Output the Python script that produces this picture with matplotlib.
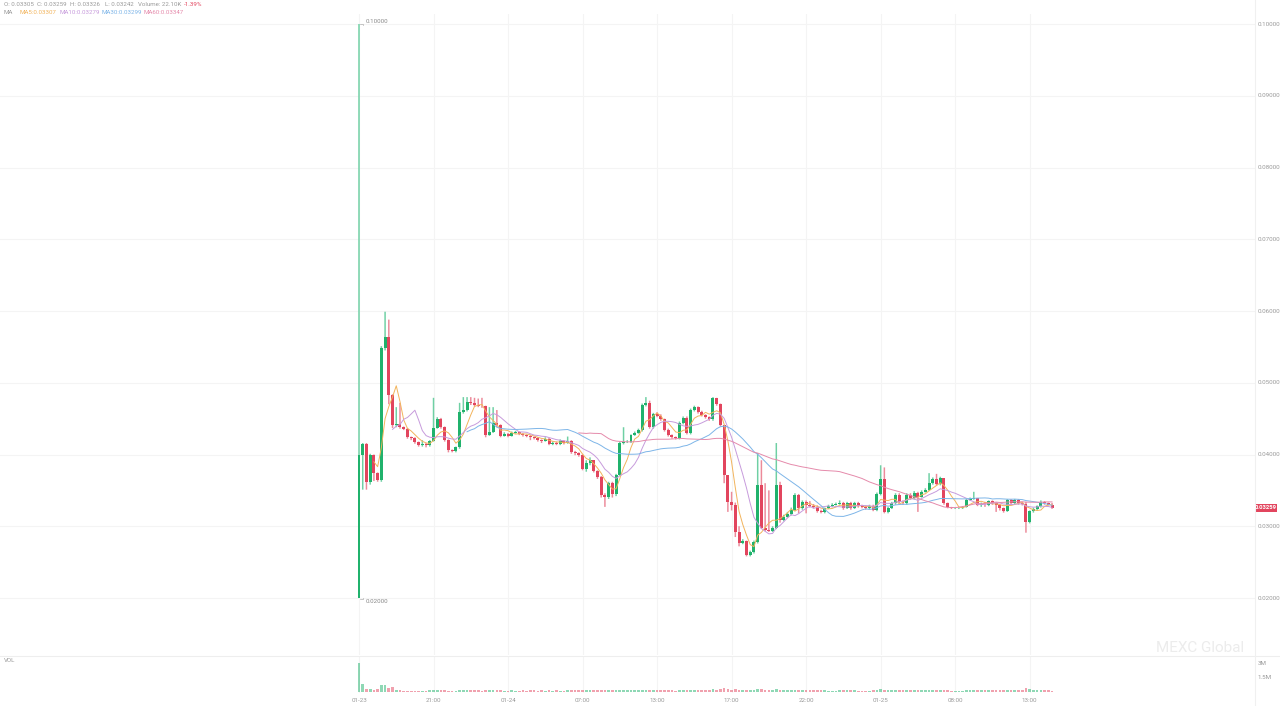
import numpy as np
import pandas as pd
import matplotlib
matplotlib.use("Agg")
import matplotlib.pyplot as plt
from matplotlib.patches import Rectangle

plt.rcParams['font.family'] = ['Roboto', 'DejaVu Sans']

# Свечи (цена закрытия / максимум / минимум), открытие = закрытие предыдущей свечи
closes = [
    0.0399, 0.0415, 0.0362, 0.0399, 0.0374, 0.0365, 0.0548, 0.0564, 0.0483, 0.0441,
    0.0443, 0.0438, 0.0436, 0.0424, 0.0423, 0.0417, 0.0413, 0.0415, 0.0413, 0.0419,
    0.0437, 0.0450, 0.0438, 0.0420, 0.0406, 0.0405, 0.0410, 0.0459, 0.0462, 0.0473,
    0.0472, 0.0469, 0.0468, 0.0467, 0.0427, 0.0431, 0.0444, 0.0441, 0.0426, 0.0429,
    0.0426, 0.0430, 0.0431, 0.0429, 0.0427, 0.0426, 0.0424, 0.0423, 0.0420, 0.0419,
    0.0422, 0.0415, 0.0416, 0.0415, 0.0419, 0.0416, 0.0419, 0.0403, 0.0402, 0.0399,
    0.0380, 0.0388, 0.0392, 0.0377, 0.0369, 0.0344, 0.0341, 0.0360, 0.0345, 0.0371,
    0.0416, 0.0417, 0.0418, 0.0427, 0.0430, 0.0434, 0.0469, 0.0472, 0.0438, 0.0456,
    0.0454, 0.0449, 0.0434, 0.0427, 0.0424, 0.0423, 0.0444, 0.0451, 0.0430, 0.0462,
    0.0466, 0.0459, 0.0455, 0.0452, 0.0449, 0.0479, 0.0470, 0.0441, 0.0371, 0.0334,
    0.0330, 0.0292, 0.0277, 0.0279, 0.0260, 0.0264, 0.0278, 0.0357, 0.0298, 0.0295,
    0.0294, 0.0298, 0.0357, 0.0309, 0.0313, 0.0317, 0.0323, 0.0344, 0.0325, 0.0334,
    0.0330, 0.0328, 0.0327, 0.0321, 0.0320, 0.0325, 0.0328, 0.0330, 0.0331, 0.0332,
    0.0325, 0.0332, 0.0325, 0.0332, 0.0328, 0.0327, 0.0325, 0.0328, 0.0323, 0.0345,
    0.0366, 0.0320, 0.0325, 0.0332, 0.0344, 0.0334, 0.0332, 0.0344, 0.0339, 0.0347,
    0.0341, 0.0348, 0.0351, 0.0360, 0.0366, 0.0359, 0.0367, 0.0332, 0.0327, 0.0325,
    0.0325, 0.0325, 0.0327, 0.0337, 0.0338, 0.0339, 0.0330, 0.0330, 0.0329, 0.0335,
    0.0332, 0.0330, 0.0325, 0.0321, 0.0337, 0.0332, 0.0337, 0.0332, 0.0331, 0.0306,
    0.0321, 0.0324, 0.0328, 0.0334, 0.0332, 0.0330, 0.03259]

highs = [
    0.1000, 0.0416, 0.0416, 0.0401, 0.0400, 0.0375, 0.0551, 0.0599, 0.0588, 0.0484,
    0.0466, 0.0472, 0.0439, 0.0437, 0.0425, 0.0424, 0.0418, 0.0420, 0.0416, 0.0420,
    0.0479, 0.0452, 0.0451, 0.0439, 0.0421, 0.0407, 0.0411, 0.0472, 0.0480, 0.0480,
    0.0480, 0.0479, 0.0478, 0.0479, 0.0468, 0.0466, 0.0466, 0.0462, 0.0442, 0.0431,
    0.0430, 0.0432, 0.0433, 0.0432, 0.0430, 0.0428, 0.0427, 0.0425, 0.0424, 0.0421,
    0.0424, 0.0423, 0.0418, 0.0418, 0.0421, 0.0420, 0.0425, 0.0420, 0.0405, 0.0403,
    0.0400, 0.0392, 0.0396, 0.0392, 0.0378, 0.0370, 0.0346, 0.0362, 0.0362, 0.0373,
    0.0418, 0.0438, 0.0420, 0.0428, 0.0432, 0.0436, 0.0471, 0.0480, 0.0475, 0.0458,
    0.0459, 0.0456, 0.0450, 0.0436, 0.0428, 0.0425, 0.0446, 0.0453, 0.0453, 0.0464,
    0.0468, 0.0467, 0.0461, 0.0456, 0.0453, 0.0480, 0.0479, 0.0471, 0.0441, 0.0371,
    0.0348, 0.0333, 0.0300, 0.0282, 0.0280, 0.0266, 0.0280, 0.0402, 0.0392, 0.0360,
    0.0350, 0.0300, 0.0416, 0.0362, 0.0316, 0.0320, 0.0326, 0.0346, 0.0345, 0.0336,
    0.0336, 0.0335, 0.0331, 0.0329, 0.0323, 0.0326, 0.0330, 0.0332, 0.0333, 0.0336,
    0.0334, 0.0334, 0.0334, 0.0334, 0.0334, 0.0330, 0.0329, 0.0330, 0.0330, 0.0347,
    0.0385, 0.0382, 0.0327, 0.0334, 0.0346, 0.0346, 0.0336, 0.0346, 0.0346, 0.0349,
    0.0348, 0.0350, 0.0353, 0.0374, 0.0368, 0.0373, 0.0369, 0.0367, 0.0333, 0.0327,
    0.0326, 0.0326, 0.0328, 0.0338, 0.0340, 0.0348, 0.0339, 0.0333, 0.0334, 0.0336,
    0.0336, 0.0333, 0.0331, 0.0326, 0.0338, 0.0338, 0.0338, 0.0338, 0.0334, 0.0334,
    0.0322, 0.0326, 0.0329, 0.0336, 0.0335, 0.0333, 0.03326]

lows = [
    0.0200, 0.0351, 0.0351, 0.0358, 0.0363, 0.0362, 0.0362, 0.0545, 0.0470, 0.0437,
    0.0438, 0.0436, 0.0434, 0.0422, 0.0420, 0.0415, 0.0411, 0.0411, 0.0410, 0.0411,
    0.0418, 0.0436, 0.0436, 0.0418, 0.0403, 0.0403, 0.0403, 0.0408, 0.0457, 0.0460,
    0.0469, 0.0467, 0.0466, 0.0465, 0.0424, 0.0426, 0.0430, 0.0438, 0.0424, 0.0425,
    0.0424, 0.0425, 0.0429, 0.0427, 0.0425, 0.0424, 0.0420, 0.0421, 0.0418, 0.0416,
    0.0418, 0.0413, 0.0413, 0.0413, 0.0413, 0.0414, 0.0415, 0.0401, 0.0399, 0.0397,
    0.0378, 0.0376, 0.0385, 0.0375, 0.0366, 0.0340, 0.0327, 0.0338, 0.0340, 0.0342,
    0.0370, 0.0414, 0.0416, 0.0416, 0.0426, 0.0429, 0.0432, 0.0467, 0.0436, 0.0436,
    0.0452, 0.0447, 0.0432, 0.0425, 0.0422, 0.0421, 0.0421, 0.0442, 0.0428, 0.0428,
    0.0460, 0.0457, 0.0453, 0.0450, 0.0447, 0.0447, 0.0468, 0.0439, 0.0360, 0.0320,
    0.0322, 0.0285, 0.0272, 0.0275, 0.0258, 0.0258, 0.0262, 0.0276, 0.0296, 0.0293,
    0.0292, 0.0292, 0.0296, 0.0305, 0.0307, 0.0312, 0.0315, 0.0321, 0.0318, 0.0323,
    0.0318, 0.0326, 0.0325, 0.0319, 0.0318, 0.0318, 0.0324, 0.0327, 0.0329, 0.0330,
    0.0323, 0.0324, 0.0323, 0.0324, 0.0326, 0.0325, 0.0323, 0.0324, 0.0321, 0.0321,
    0.0343, 0.0318, 0.0318, 0.0324, 0.0330, 0.0332, 0.0330, 0.0330, 0.0337, 0.0337,
    0.0320, 0.0340, 0.0347, 0.0349, 0.0358, 0.0357, 0.0357, 0.0330, 0.0325, 0.0324,
    0.0324, 0.0324, 0.0324, 0.0326, 0.0336, 0.0337, 0.0328, 0.0327, 0.0327, 0.0328,
    0.0330, 0.0320, 0.0322, 0.0319, 0.0320, 0.0330, 0.0331, 0.0330, 0.0329, 0.0291,
    0.0304, 0.0319, 0.0322, 0.0326, 0.0330, 0.0329, 0.03242]

first_open = 0.0200

# Объём, млн
volumes = [
    3.05, 0.80, 0.26, 0.26, 0.20, 0.26, 0.72, 0.72, 0.36, 0.43,
    0.14, 0.12, 0.10, 0.10, 0.08, 0.10, 0.08, 0.08, 0.10, 0.12,
    0.16, 0.14, 0.12, 0.12, 0.10, 0.08, 0.10, 0.20, 0.14, 0.14,
    0.12, 0.12, 0.12, 0.10, 0.16, 0.12, 0.14, 0.12, 0.14, 0.10,
    0.10, 0.12, 0.10, 0.10, 0.12, 0.10, 0.12, 0.12, 0.10, 0.12,
    0.10, 0.12, 0.10, 0.12, 0.10, 0.10, 0.12, 0.14, 0.12, 0.12,
    0.16, 0.14, 0.14, 0.14, 0.14, 0.20, 0.16, 0.18, 0.14, 0.16,
    0.20, 0.14, 0.12, 0.12, 0.12, 0.14, 0.18, 0.16, 0.16, 0.14,
    0.12, 0.12, 0.14, 0.12, 0.12, 0.10, 0.14, 0.12, 0.14, 0.16,
    0.14, 0.12, 0.12, 0.12, 0.12, 0.22, 0.16, 0.26, 0.42, 0.28,
    0.18, 0.22, 0.20, 0.16, 0.20, 0.14, 0.18, 0.28, 0.22, 0.16,
    0.14, 0.14, 0.30, 0.20, 0.14, 0.14, 0.14, 0.18, 0.16, 0.14,
    0.12, 0.12, 0.12, 0.14, 0.12, 0.12, 0.10, 0.10, 0.10, 0.12,
    0.12, 0.12, 0.12, 0.12, 0.10, 0.10, 0.10, 0.10, 0.12, 0.18,
    0.22, 0.20, 0.14, 0.12, 0.14, 0.12, 0.12, 0.14, 0.12, 0.12,
    0.12, 0.12, 0.12, 0.18, 0.16, 0.16, 0.14, 0.18, 0.12, 0.08,
    0.08, 0.08, 0.10, 0.12, 0.12, 0.14, 0.12, 0.12, 0.12, 0.12,
    0.12, 0.12, 0.14, 0.12, 0.16, 0.12, 0.12, 0.12, 0.12, 0.34,
    0.22, 0.14, 0.14, 0.14, 0.12, 0.12, 0.08]

tick_idx = [0, 20, 40, 60, 80, 100, 120, 140, 160, 180]
tick_labels = ["01-23", "21:00", "01-24", "07:00", "13:00", "17:00", "22:00", "01-25", "08:00", "13:00"]
price_levels = [0.02, 0.03, 0.04, 0.05, 0.06, 0.07, 0.08, 0.09, 0.10]
vol_ticks = [1.5, 3.0]
vol_tick_labels = ["1.5M", "3M"]

ma_windows = [5, 10, 30, 60]
ma_colors = ["#f2b45c", "#c79bdc", "#7db5e8", "#e58aab"]
ma_values = ["0.03307", "0.03279", "0.03299", "0.03347"]

GREEN = "#20b26c"
RED = "#e2455e"
GREEN_WICK = "#6fd0a4"
RED_WICK = "#ec8a9a"
GRID = "#f4f4f4"
TXT = "#9a9a9a"

df = pd.DataFrame({"close": closes, "high": highs, "low": lows, "vol": volumes})
df["open"] = df["close"].shift(1)
df.loc[0, "open"] = first_open
df["up"] = df["close"] >= df["open"]
x = np.arange(len(df))

W, H = 1280, 706
fig = plt.figure(figsize=(W / 100, H / 100), dpi=100)


def fx(px):
    return px / W


def fy(py):
    return 1 - py / H


# пиксели -> координаты данных
x0_px, step_px = 359, 3.726
ppu = 7175.0  # пикселей на единицу цены
ax = fig.add_axes([0, fy(655), fx(1255), fy(14) - fy(655)])
axv = fig.add_axes([0, fy(693), fx(1255), fy(657) - fy(693)], sharex=ax)
ax.set_xlim(-x0_px / step_px, (1255 - x0_px) / step_px)
ax.set_ylim(0.10 - (655 - 24) / ppu, 0.10 + (24 - 14) / ppu)
axv.set_ylim(-(693 - 691.5) / 28 * 3, (691.5 - 657) / 28 * 3)

for a in (ax, axv):
    for s in a.spines.values():
        s.set_visible(False)
    a.tick_params(left=False, bottom=False, labelleft=False, labelbottom=False)
    for t in tick_idx:
        a.axvline(t, color=GRID, lw=0.8, zorder=0)

for p in price_levels:
    ax.axhline(p, color=GRID, lw=0.8, zorder=0)

# свечи
colors = [GREEN if u else RED for u in df["up"]]
wick_colors = [GREEN_WICK if u else RED_WICK for u in df["up"]]
wicks = ax.bar(x, df["high"] - df["low"], bottom=df["low"], width=0.4, color=wick_colors, lw=0, zorder=2)
for r in wicks:
    r.set_snap(False)
body_lo = np.minimum(df["open"], df["close"])
body_h = np.maximum(np.abs(df["close"] - df["open"]), 0.00004)
ax.bar(x, body_h, bottom=body_lo, width=0.8, color=colors, lw=0, zorder=3)

# скользящие средние
for w, c in zip(ma_windows, ma_colors):
    ax.plot(x, df["close"].rolling(w).mean(), color=c, lw=0.7, zorder=4)

# максимум / минимум
ax.plot([0.3, 1.2, 1.2], [0.10, 0.10, 0.0999], color="#b0b0b0", lw=0.5)
ax.text(1.8, 0.1003, "0.10000", fontsize=4.4, color="#888888", va="center", ha="left")
ax.plot([0.3, 1.2, 1.2], [0.0199, 0.0199, 0.0200], color="#b0b0b0", lw=0.5)
ax.text(1.8, 0.01955, "0.02000", fontsize=4.4, color="#888888", va="center", ha="left")

# объём
axv.bar(x, df["vol"], width=0.72, color=colors, alpha=0.5, lw=0)

# разделители
fig.add_artist(plt.Line2D([0, 1], [fy(656), fy(656)], color="#eeeeee", lw=0.8))
fig.add_artist(plt.Line2D([fx(1255), fx(1255)], [0, 1], color="#f0f0f0", lw=0.8))

# подписи оси цен
for p in price_levels:
    fig.text(fx(1258), fy(24 + (0.10 - p) * ppu), f"{p:.5f}", fontsize=4.5, color=TXT, va="center", ha="left")
for v, lab in zip(vol_ticks, vol_tick_labels):
    fig.text(fx(1258), fy(691.5 - v / 3 * 28), lab, fontsize=4.5, color=TXT, va="center", ha="left")

# текущая цена
last = closes[-1]
ly = 24 + (0.10 - last) * ppu
fig.add_artist(Rectangle((fx(1255), fy(ly + 4)), fx(22), fy(ly - 4) - fy(ly + 4), color=RED, lw=0))
fig.text(fx(1266), fy(ly), f"{last:.5f}", fontsize=4.2, color="white", va="center", ha="center", fontweight="bold")

# подписи времени
for t, lab in zip(tick_idx, tick_labels):
    fig.text(fx(x0_px + t * step_px), fy(700), lab, fontsize=4.5, color=TXT, va="center", ha="center")

# шапка
header = [(4, "O: 0.03305", TXT), (37, "C: 0.03259", TXT), (70, "H: 0.03326", TXT),
          (105, "L: 0.03242", TXT), (138, "Volume: 22.10K", TXT), (184, "-1.39%", RED)]
for hx, s, c in header:
    fig.text(fx(hx), fy(5), s, fontsize=4.4, color=c, va="center", ha="left")
fig.text(fx(4), fy(12), "MA", fontsize=4.4, color=TXT, va="center", ha="left")
for hx, w, c, v in zip([20, 60, 102, 144], ma_windows, ma_colors, ma_values):
    fig.text(fx(hx), fy(12), f"MA{w}:{v}", fontsize=4.4, color=c, va="center", ha="left")

fig.text(fx(4), fy(660), "VOL", fontsize=4.4, color=TXT, va="center", ha="left")
fig.text(fx(1200), fy(648), "MEXC Global", fontsize=11, color="#ececec", va="center", ha="center")

fig.savefig("out.png", dpi=100, facecolor="white")
